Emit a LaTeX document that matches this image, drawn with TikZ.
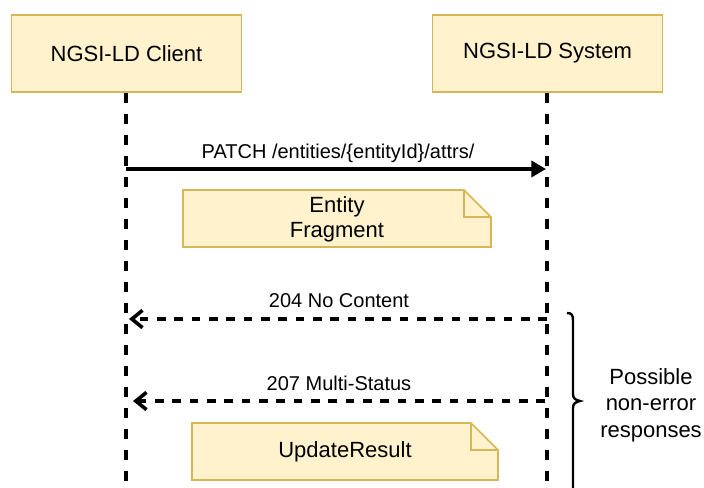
\documentclass[tikz,border=0pt]{standalone}
\usepackage{fontspec}
\setmainfont{Liberation Sans}
\usetikzlibrary{arrows.meta,calc}
\definecolor{notefill}{HTML}{FFF2CC}
\definecolor{notedraw}{HTML}{D6B656}
\tikzset{
  actor/.style={draw=notedraw, fill=notefill, line width=1.2pt, minimum width=230*0.75pt, minimum height=77*0.75pt, inner sep=0pt, font=\fontsize{16.5}{20}\selectfont},
  lifeline/.style={line width=2.7pt, dash pattern=on 7.5pt off 8.25pt},
  msg/.style={line width=2.7pt, -{Triangle[length=11pt,width=12pt]}},
  reply/.style={line width=2.7pt, dash pattern=on 6.5pt off 6.5pt, -{Straight Barb[length=8pt,width=13pt]}},
  lbl/.style={font=\fontsize{15}{18}\selectfont, inner sep=0pt},
  notetext/.style={font=\fontsize{16.5}{19}\selectfont, align=center, inner sep=0pt},
  noteshape/.style={draw=notedraw, fill=notefill, line width=1.2pt, line join=miter}
}
\begin{document}
\begin{tikzpicture}[x=0.75pt,y=-0.75pt]
\useasboundingbox (0,0) rectangle (704,487);
% actors
\node[actor] (client) at (126.5,53.5) {NGSI-LD Client};
\node[actor] (system) at (547.5,53.5) {NGSI-LD System};
\coordinate (cl) at (126,495);
\coordinate (sl) at (547,495);
\draw[lifeline] (client.south -| cl) -- (cl);
\draw[lifeline] (system.south -| sl) -- (sl);
% PATCH
\coordinate (p1) at (126,169);
\coordinate (p2) at (546,169);
\draw[msg] (p1) -- (p2);
\node[lbl] (patch) at (338,153) {PATCH /entities/\{entityId\}/attrs/};
% note 1
\coordinate (n1a) at (183,190);
\coordinate (n1b) at (491,247);
\draw[noteshape] (n1a) -- ($(n1a -| n1b)+(-27,0)$) -- ($(n1a -| n1b)+(0,27)$) -- (n1b) -- (n1a |- n1b) -- cycle;
\draw[noteshape, fill=none] ($(n1a -| n1b)+(-27,0)$) -- ($(n1a -| n1b)+(-27,27)$) -- ($(n1a -| n1b)+(0,27)$);
\node[notetext] (frag) at (337,219.5) {Entity\\Fragment};
% 204
\coordinate (r1a) at (547,319);
\coordinate (r1b) at (129,319);
\draw[reply] (r1a) -- (r1b);
\node[lbl] (l204) at (339,301) {204 No Content};
% 207
\coordinate (r2a) at (545,401);
\coordinate (r2b) at (133,401);
\draw[reply] (r2a) -- (r2b);
\node[lbl] (l207) at (339,383) {207 Multi-Status};
% note 2
\coordinate (n2a) at (192,423);
\coordinate (n2b) at (498,480);
\draw[noteshape] (n2a) -- ($(n2a -| n2b)+(-27,0)$) -- ($(n2a -| n2b)+(0,27)$) -- (n2b) -- (n2a |- n2b) -- cycle;
\draw[noteshape, fill=none] ($(n2a -| n2b)+(-27,0)$) -- ($(n2a -| n2b)+(-27,27)$) -- ($(n2a -| n2b)+(0,27)$);
\node[notetext] (upd) at (345,452) {UpdateResult};
% brace
\draw[line width=1.8pt] (567,313) .. controls (572,313) and (573,315) .. (573,321) -- (573,394) .. controls (573,398) and (575,400) .. (580,401) .. controls (575,402) and (573,404) .. (573,408) -- (573,495);
\node[notetext, font=\fontsize{16.5}{20}\selectfont] (poss) at (651,405) {Possible\\non-error\\responses};
\end{tikzpicture}
\end{document}
